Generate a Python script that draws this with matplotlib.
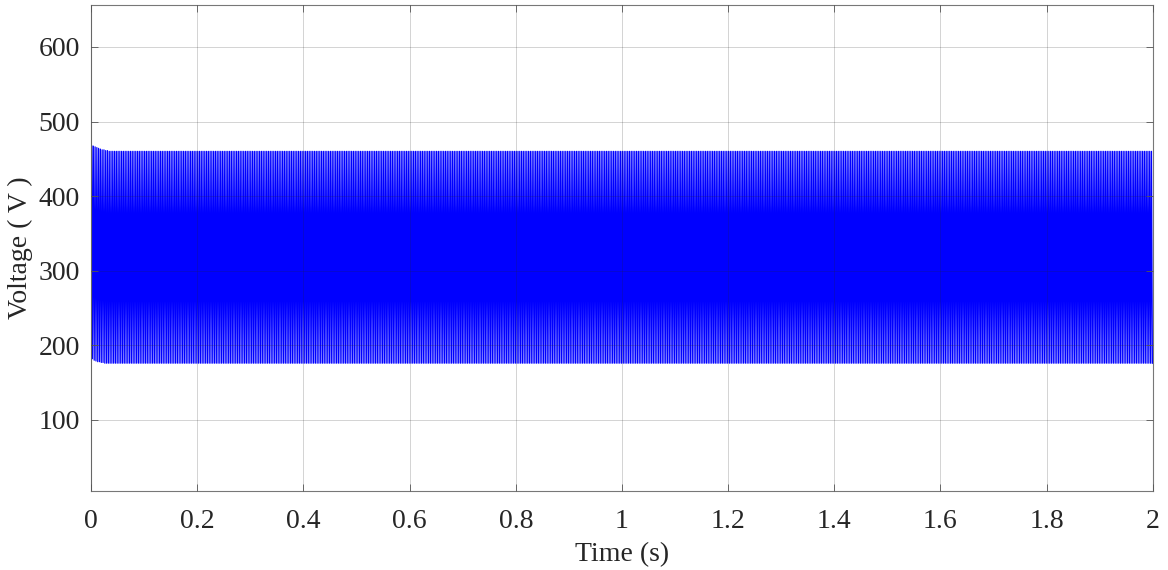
import numpy as np
import matplotlib.pyplot as plt

# Ripple waveform
ripple_hz = 300          # approx. ripple frequency
t_end = 2.0
v_start = 5              # value at t = 0
hi_start = [468, 467, 466, 465, 464, 463, 462, 462, 461, 461]   # first peaks
lo_start = [182, 180, 179, 178, 178, 177, 177, 176, 176, 176]   # first troughs
hi_steady = 460
lo_steady = 176

x_ticks = [0, 0.2, 0.4, 0.6, 0.8, 1, 1.2, 1.4, 1.6, 1.8, 2]
x_labels = ["0", "0.2", "0.4", "0.6", "0.8", "1", "1.2", "1.4", "1.6", "1.8", "2"]
y_ticks = [100, 200, 300, 400, 500, 600]

# build the peak / trough sequence
n_cycles = int(ripple_hz * t_end)
his = np.array(hi_start + [hi_steady] * (n_cycles - len(hi_start)))
los = np.array(lo_start + [lo_steady] * (n_cycles - len(lo_start)))
half = 1.0 / (2 * ripple_hz)
t = [0.0]
v = [v_start]
for k in range(n_cycles):
    t.append((2 * k + 0.5) * half)
    v.append(his[k])
    t.append((2 * k + 1.5) * half)
    v.append(los[k])
t = np.array(t)
v = np.array(v)

plt.rcParams["font.family"] = ["Liberation Serif", "DejaVu Serif"]
txt = "#262626"

fig = plt.figure(figsize=(11.68, 5.70), dpi=100)
ax = fig.add_axes([0.078, 0.139, 0.909, 0.852])

ax.plot(t, v, color="#0000ff", linewidth=0.9)

ax.set_xlim(0, 2)
ax.set_ylim(5, 656)
ax.set_xticks(x_ticks)
ax.set_xticklabels(x_labels)
ax.set_yticks(y_ticks)
ax.tick_params(direction="in", length=5, width=0.6, color="#555555",
               labelsize=20, labelcolor=txt, top=True, right=True)
ax.tick_params(axis="x", pad=13)
ax.tick_params(axis="y", pad=8)
for s in ax.spines.values():
    s.set_color("#777777")
    s.set_linewidth(0.8)

ax.grid(True, color="#262626", alpha=0.2, linewidth=0.7)
ax.set_axisbelow(False)

ax.set_xlabel("Time (s)", fontsize=20, color=txt, labelpad=6)
ax.set_ylabel("Voltage ( V )", fontsize=20, color=txt, labelpad=4)

fig.savefig("out.png", dpi=100)
